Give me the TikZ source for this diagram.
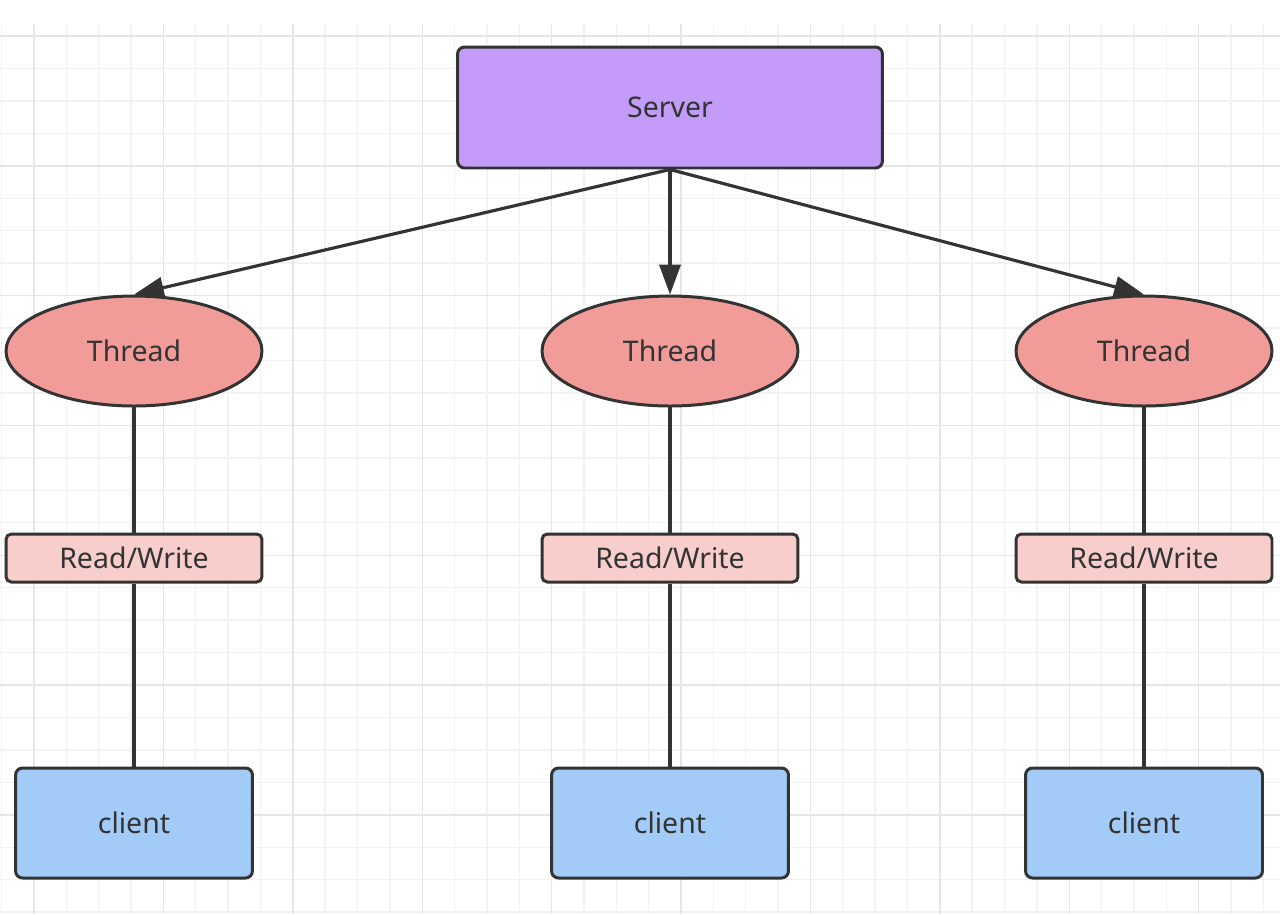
\documentclass[tikz,border=0pt]{standalone}
\usepackage{fontspec}
\setmainfont{Noto Sans}
\usetikzlibrary{arrows.meta,shapes.geometric}
\definecolor{ink}{HTML}{333333}
\definecolor{gridminor}{HTML}{F2F2F2}
\definecolor{gridmajor}{HTML}{E6E6E6}
\definecolor{serverfill}{HTML}{C29CF8}
\definecolor{threadfill}{HTML}{F19C99}
\definecolor{rwfill}{HTML}{F8CECC}
\definecolor{clientfill}{HTML}{A3CBF8}
\begin{document}
\begin{tikzpicture}[x=0.02cm, y=-0.02cm,
    every node/.style={text=ink, font=\fontsize{16.2}{19}\selectfont},
    box/.style={draw=ink, line width=1.7pt, rounded corners=4pt, inner sep=0pt},
    server/.style={box, fill=serverfill, minimum width=8.5cm, minimum height=2.42cm},
    thread/.style={ellipse, draw=ink, line width=1.7pt, fill=threadfill, inner sep=0pt,
        minimum width=5.12cm, minimum height=2.2cm},
    rw/.style={box, rounded corners=3pt, fill=rwfill, minimum width=5.12cm, minimum height=0.96cm},
    client/.style={box, fill=clientfill, minimum width=4.74cm, minimum height=2.2cm},
    link/.style={draw=ink, line width=1.8pt},
    tip/.style={-{Triangle[length=17pt, width=12pt]}}
]
    \useasboundingbox (0,0) rectangle (1280,914);
    % grid
    \foreach \k in {0,...,39}
        \draw [gridminor, line width=0.8pt] ({1.65+32.35*\k}, 24) -- ++(0, 890);
    \foreach \k in {0,...,27}
        \draw [gridminor, line width=0.8pt] (0, {36+32.45*\k}) -- ++(1280, 0);
    \foreach \k in {0,...,9}
        \draw [gridmajor, line width=0.8pt] ({34+129.4*\k}, 24) -- ++(0, 890);
    \foreach \k in {0,...,6}
        \draw [gridmajor, line width=0.8pt] (0, {36+129.8*\k}) -- ++(1280, 0);

    \node [server] (srv) at (670, 107.5) {Server};
    \foreach \x/\i in {134/1, 670/2, 1144/3} {
        \node [thread] (th\i) at (\x, 351) {Thread};
        \node [rw] (rw\i) at (\x, 558) {Read/Write};
        \node [client] (cl\i) at (\x, 823) {client};
        \draw [link, tip] (srv.south) -- (th\i.north);
        \draw [link] (th\i) -- (rw\i);
        \draw [link] (rw\i) -- (cl\i);
    }
\end{tikzpicture}
\end{document}
